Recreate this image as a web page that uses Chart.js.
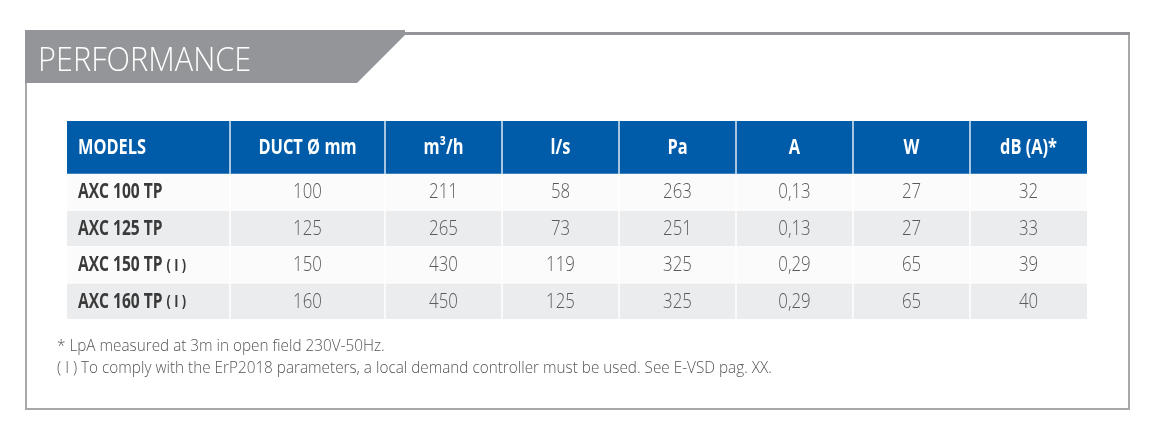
<!DOCTYPE html>
<html><head><meta charset="utf-8">
<script src="https://cdn.jsdelivr.net/npm/chart.js@4/dist/chart.umd.min.js"></script>
<style>html,body{margin:0;padding:0;background:#fff}#c{display:block}</style>
</head><body>
<div style="width:1158px;height:435px"><canvas id="c"></canvas></div>
<script>
const title = "PERFORMANCE";
const headers = ["MODELS","DUCT Ø mm","m³/h","l/s","Pa","A","W","dB (A)*"];
const models = ["AXC 100 TP","AXC 125 TP","AXC 150 TP","AXC 160 TP"];
const modelSuffix = ["","","( I )","( I )"];
const duct = ["100","125","150","160"];
const m3h = ["211","265","430","450"];
const ls = ["58","73","119","125"];
const pa = ["263","251","325","325"];
const amps = ["0,13","0,13","0,29","0,29"];
const watts = ["27","27","65","65"];
const dba = ["32","33","39","40"];
const notes = ["* LpA measured at 3m in open field 230V-50Hz.",
 "( I ) To comply with the ErP2018 parameters, a local demand controller must be used. See E-VSD pag. XX."];
const colWidths = [163,155,117,117,117,117,117,117];
const rowHeights = [53,37,36.5,36.5,36.5];

const colEdges=[0]; colWidths.forEach(w=>colEdges.push(colEdges[colEdges.length-1]+w));
const rowEdges=[0]; rowHeights.forEach(h=>rowEdges.push(rowEdges[rowEdges.length-1]+h));
const valueCols=[duct,m3h,ls,pa,amps,watts,dba];

function sText(ctx,t,x,y,sx,align){
  ctx.save();ctx.translate(x,y);ctx.scale(sx,1);ctx.textAlign=align;ctx.fillText(t,0,0);ctx.restore();
}

const tablePlugin={id:'table',beforeDatasetsDraw(chart){
  const ctx=chart.ctx,x=chart.scales.x,y=chart.scales.y;
  const X=v=>x.getPixelForValue(v),Y=v=>y.getPixelForValue(v);
  ctx.save();
  ctx.strokeStyle='#a7a8aa';ctx.lineWidth=2;
  ctx.strokeRect(26,34,1103,375);
  ctx.fillStyle='#939598';
  ctx.beginPath();ctx.moveTo(25,30);ctx.lineTo(405,30);ctx.lineTo(405,35);ctx.lineTo(357,83);ctx.lineTo(25,83);ctx.closePath();ctx.fill();
  ctx.fillRect(405,32,725,3);
  ctx.fillStyle='#fff';ctx.font="300 33px 'Open Sans',sans-serif";ctx.textBaseline='alphabetic';
  sText(ctx,title,38,71,0.93,'left');
  ctx.fillStyle='#005ca9';ctx.fillRect(X(0),Y(0),X(colEdges[8])-X(0),Y(rowEdges[1])-Y(0));
  for(let r=0;r<4;r++){
    ctx.fillStyle=r%2?'#ebecee':'#fbfbfb';
    ctx.fillRect(X(0),Y(rowEdges[r+1]),X(colEdges[8])-X(0),Y(rowEdges[r+2])-Y(rowEdges[r+1])-1);
  }
  ctx.strokeStyle='#ffffff';ctx.lineWidth=1.5;
  for(let c=1;c<8;c++){ctx.beginPath();ctx.moveTo(X(colEdges[c]),Y(0));ctx.lineTo(X(colEdges[c]),Y(rowEdges[5]));ctx.stroke();}
  ctx.strokeStyle='#8fb3d9';ctx.lineWidth=1;
  for(let c=1;c<8;c++){ctx.beginPath();ctx.moveTo(X(colEdges[c]),Y(0));ctx.lineTo(X(colEdges[c]),Y(rowEdges[1]));ctx.stroke();}
  ctx.textBaseline='middle';
  headers.forEach((h,c)=>{
    ctx.fillStyle='#fff';ctx.font="bold 21px 'Open Sans',sans-serif";
    const cy=(Y(0)+Y(rowEdges[1]))/2+1;
    if(c===0) sText(ctx,h,X(0)+11,cy,0.78,'left');
    else sText(ctx,h,(X(colEdges[c])+X(colEdges[c+1]))/2,cy,0.78,'center');
  });
  for(let r=0;r<4;r++){
    const cy=(Y(rowEdges[r+1])+Y(rowEdges[r+2]))/2;
    ctx.fillStyle='#3a3a3a';ctx.font="bold 21px 'Open Sans',sans-serif";
    sText(ctx,models[r],X(0)+11,cy,0.74,'left');
    if(modelSuffix[r]){const w=ctx.measureText(models[r]+' ').width*0.74;ctx.font="bold 16px 'Open Sans',sans-serif";sText(ctx,modelSuffix[r],X(0)+11+w,cy+1,0.8,'left');}
    ctx.fillStyle='#5a5a5a';ctx.font="300 21px 'Open Sans',sans-serif";
    valueCols.forEach((col,i)=>sText(ctx,col[r],(X(colEdges[i+1])+X(colEdges[i+2]))/2,cy,0.8,'center'));
  }
  ctx.textBaseline='alphabetic';ctx.fillStyle='#555';ctx.font="300 17px 'Open Sans',sans-serif";
  sText(ctx,notes[0],57,351,0.9,'left');sText(ctx,notes[1],57,373,0.9,'left');
  ctx.restore();
}};

new Chart(document.getElementById('c'),{
  type:'scatter',
  data:{datasets:[{data:[],pointRadius:0}]},
  options:{responsive:true,maintainAspectRatio:false,animation:false,devicePixelRatio:1,
    layout:{padding:{left:67,right:71,top:121,bottom:115}},
    plugins:{legend:{display:false},tooltip:{enabled:false}},
    scales:{x:{type:'linear',display:false,min:0,max:colEdges[8]},
            y:{type:'linear',display:false,min:0,max:rowEdges[5],reverse:true}}},
  plugins:[tablePlugin]
});
</script></body></html>
